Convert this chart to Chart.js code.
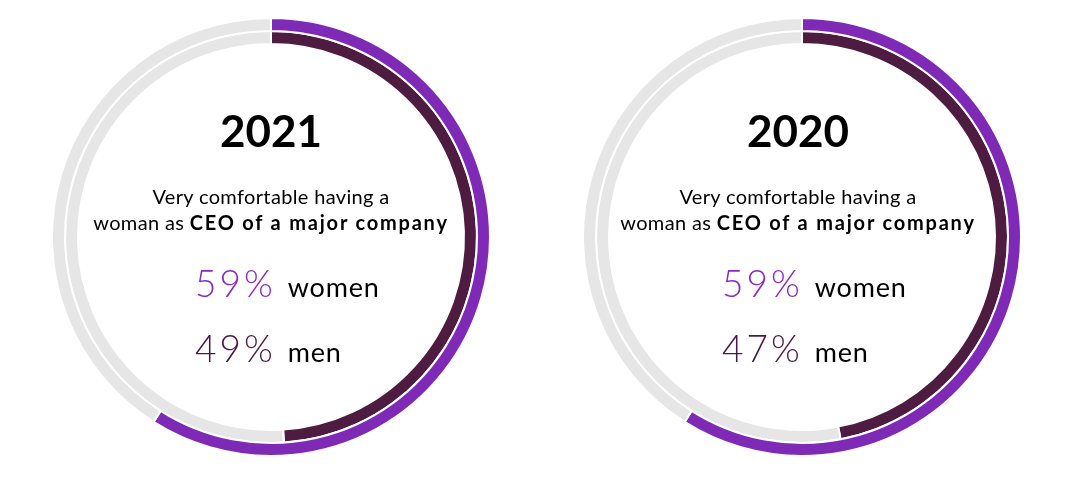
<!DOCTYPE html>
<html>
<head>
<meta charset="utf-8">
<script src="https://cdn.jsdelivr.net/npm/chart.js@4"></script>
<style>
  html, body { margin: 0; padding: 0; background: #fff; }
  body { width: 1073px; height: 480px; position: relative; overflow: hidden; font-family: 'Lato', 'Open Sans', sans-serif; color: #000; }
  .ring { position: absolute; top: 17px; width: 440px; height: 440px; }
  .txt { position: absolute; white-space: nowrap; line-height: 1; }
  .year { font-weight: 700; font-size: 44px; width: 300px; text-align: center; }
  .desc { font-size: 20px; width: 420px; text-align: center; letter-spacing: 0.35px; }
  .desc b { font-weight: 700; letter-spacing: 1.8px; }
  .pct { font-size: 37px; font-weight: 300; letter-spacing: 3px; }
  .pct span { font-size: 27px; color: #000; font-weight: 400; margin-left: 12px; letter-spacing: 0.8px; }
</style>
</head>
<body>
<script>
// data
const years = ['2021', '2020'];
const womenPct = [59, 59];
const menPct = [49, 47];
const sliceLabels = ['Very comfortable', 'Other'];

// layout
const ringCenters = [271, 802];
const textCenters = [271, 798];

const purple = '#7E2AB6';
const plum = '#4E1C40';
const grey = '#E6E6E6';

years.forEach((yr, i) => {
    const wrap = document.createElement('div');
    wrap.className = 'ring';
    wrap.style.left = (ringCenters[i] - 220) + 'px';
    const cv = document.createElement('canvas');
    cv.width = 440;
    cv.height = 440;
    wrap.appendChild(cv);
    document.body.appendChild(wrap);

    new Chart(cv.getContext('2d'), {
        type: 'doughnut',
        data: {
            labels: sliceLabels,
            datasets: [{
                label: 'Women',
                data: [womenPct[i], 100 - womenPct[i]],
                backgroundColor: [purple, grey]
            }, {
                label: 'Men',
                data: [menPct[i], 100 - menPct[i]],
                backgroundColor: [plum, grey]
            }]
        },
        options: {
            responsive: false,
            animation: false,
            radius: 219,
            cutout: 193,
            borderColor: '#ffffff',
            borderWidth: 2,
            layout: { padding: 0 },
            plugins: { legend: { display: false }, tooltip: { enabled: false } }
        }
    });

    const tc = textCenters[i];
    const add = (cls, html, left, top, color) => {
        const d = document.createElement('div');
        d.className = 'txt ' + cls;
        d.innerHTML = html;
        d.style.left = left + 'px';
        d.style.top = top + 'px';
        if (color) d.style.color = color;
        document.body.appendChild(d);
    };
    add('year', yr, tc - 150, 108);
    add('desc', 'Very comfortable having a', tc - 210, 186);
    add('desc', 'woman as <b>CEO of a major company</b>', tc - 210, 212);
    add('pct', womenPct[i] + '%<span>women</span>', tc - 76, 264, '#8C2BC4');
    add('pct', menPct[i] + '%<span>men</span>', tc - 76, 329, '#4B1649');
});
</script>
</body>
</html>
